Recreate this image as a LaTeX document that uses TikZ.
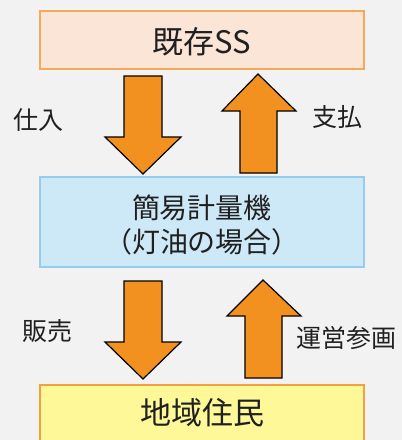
\documentclass[tikz,border=0pt]{standalone}
\usepackage{fontspec}
\newfontfamily\jp{Noto Sans CJK JP}
\definecolor{bg}{HTML}{F2F2F2}
\definecolor{topfill}{HTML}{FBE5D6}
\definecolor{topdraw}{HTML}{F5A95A}
\definecolor{midfill}{HTML}{CDE8F6}
\definecolor{middraw}{HTML}{96CDEE}
\definecolor{botfill}{HTML}{FFF899}
\definecolor{botdraw}{HTML}{F5A040}
\definecolor{arrowfill}{HTML}{F29120}
\definecolor{txt}{HTML}{202020}
\tikzset{
  boxstyle/.style={line width=1.5pt, minimum width=324pt, inner sep=0pt, text=txt, align=center},
  boxtext/.style={text=txt, inner sep=0pt, align=center},
  blockarrow/.style={fill=arrowfill, draw=black, line width=1.2pt, line join=miter},
  lbl/.style={text=txt, font=\jp\fontsize{25}{28}\selectfont, inner sep=0pt}
}
\begin{document}
\begin{tikzpicture}[x=1pt,y=-1pt]
\fill[bg] (0,0) rectangle (402,440);
\useasboundingbox (0,0) rectangle (402,440);
\begin{scope}
\clip (0,0) rectangle (402,440);
\node[boxstyle, fill=topfill, draw=topdraw, minimum height=58pt] (ss) at (202,40) {};
\node[boxstyle, fill=midfill, draw=middraw, minimum height=90pt] (mid) at (202,222) {};
\node[boxstyle, fill=botfill, draw=botdraw, minimum height=70pt] (res) at (202,420) {};
\end{scope}
\node[boxtext, font=\jp\fontsize{31}{34}\selectfont] (sstext) at (202,42) {既存SS};
\node[boxtext, font=\jp\fontsize{28}{34}\selectfont] (midtext) at (202,225) {簡易計量機\\（灯油の場合）};
\node[boxtext, font=\jp\fontsize{31}{34}\selectfont] (restext) at (202,413) {地域住民};
% arrows
\draw[blockarrow] (124,76) -- (162,76) -- (162,137) -- (181,137) -- (143,174) -- (105,137) -- (124,137) -- cycle;
\draw[blockarrow] (240,173) -- (277,173) -- (277,111) -- (296,111) -- (258,74) -- (222,111) -- (240,111) -- cycle;
\draw[blockarrow] (124,281) -- (162,281) -- (162,342) -- (181,342) -- (143,379) -- (105,342) -- (124,342) -- cycle;
\draw[blockarrow] (245,378) -- (282,378) -- (282,316) -- (301,316) -- (263,280) -- (227,316) -- (245,316) -- cycle;
% labels
\node[lbl] (l1) at (38,120) {仕入};
\node[lbl] (l2) at (337,117) {支払};
\node[lbl] (l3) at (48,331) {販売};
\node[lbl] (l4) at (346,338) {運営参画};
\end{tikzpicture}
\end{document}
